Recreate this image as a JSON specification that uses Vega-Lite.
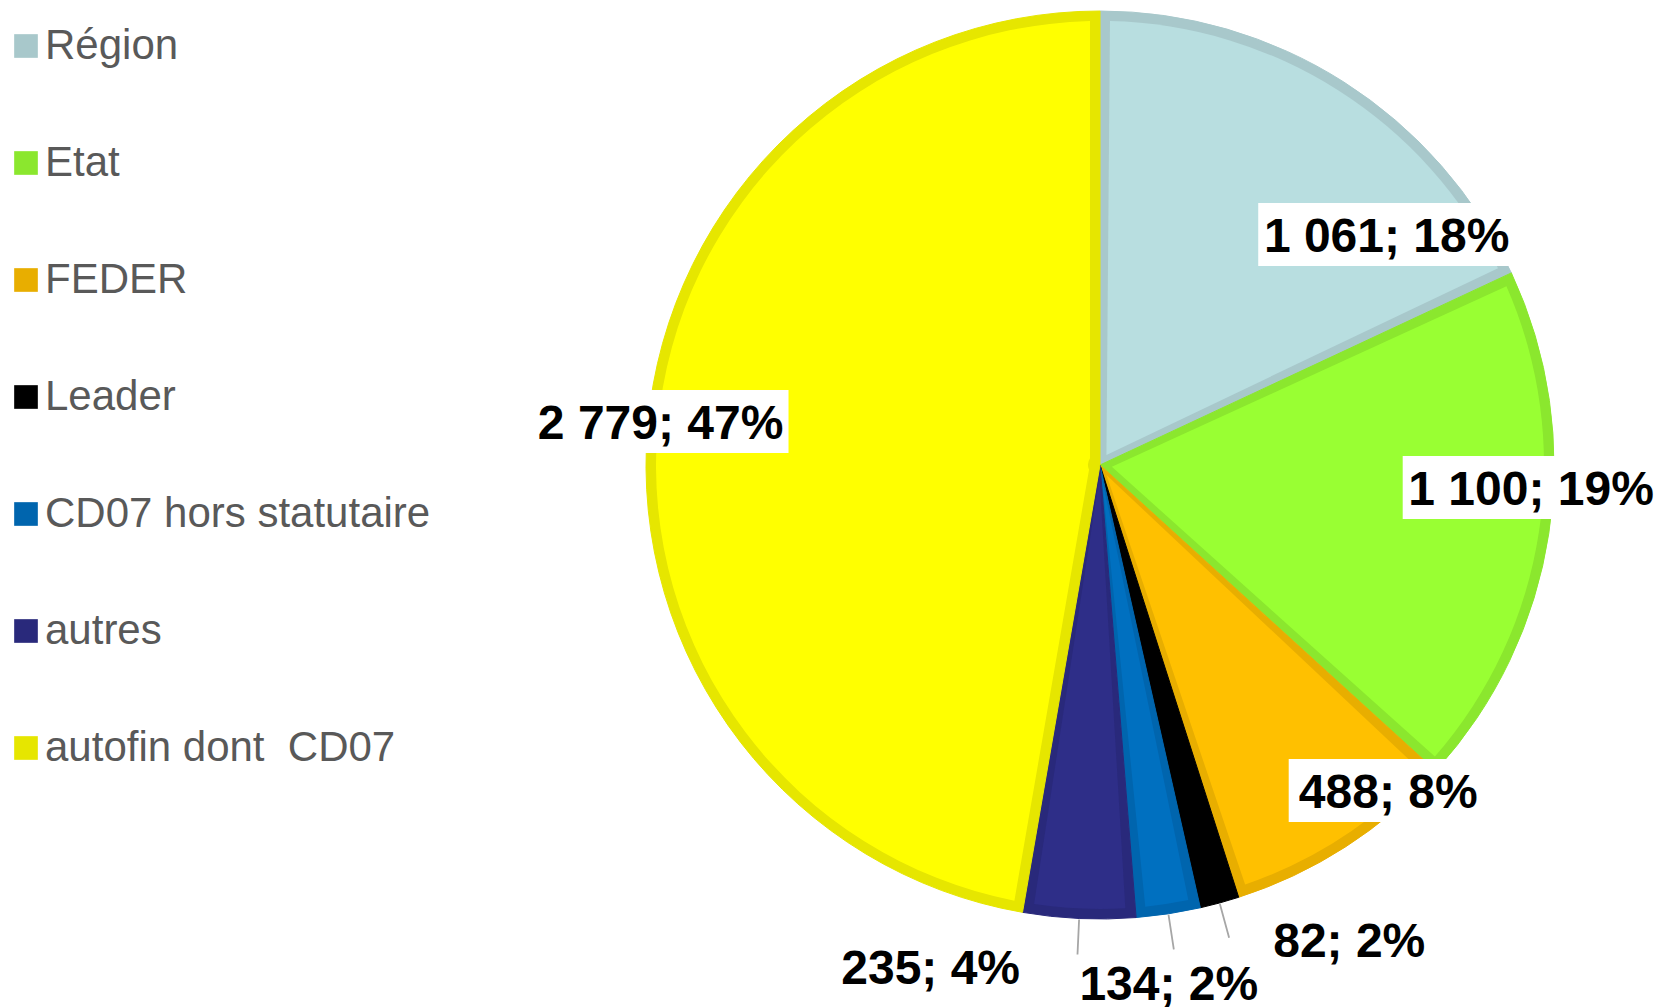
{
  "$schema": "https://vega.github.io/schema/vega-lite/v6.json",
  "width": 1116,
  "height": 930,
  "autosize": {"type": "none"},
  "padding": {"left": 542, "top": 0, "right": 0, "bottom": 77},
  "background": "#ffffff",
  "config": {"view": {"stroke": null}},
  "data": {
    "values": [
      {"cat": "Région", "value": 1061, "label": "1 061; 18%", "idx": 1},
      {"cat": "Etat", "value": 1100, "label": "1 100; 19%", "idx": 2},
      {"cat": "FEDER", "value": 488, "label": "488; 8%", "idx": 3},
      {"cat": "Leader", "value": 82, "label": "82; 2%", "idx": 4},
      {"cat": "CD07 hors statutaire", "value": 134, "label": "134; 2%", "idx": 5},
      {"cat": "autres", "value": 235, "label": "235; 4%", "idx": 6},
      {"cat": "autofin dont\u00a0 CD07", "value": 2779, "label": "2 779; 47%", "idx": 7}
    ]
  },
  "encoding": {
    "theta": {"field": "value", "type": "quantitative", "stack": true},
    "order": {"field": "idx", "type": "quantitative"}
  },
  "layer": [
    {
      "mark": {"type": "arc", "radius": 454, "strokeWidth": 1},
      "encoding": {
        "color": {
          "field": "cat", "type": "nominal",
          "scale": {
            "domain": ["Région", "Etat", "FEDER", "Leader", "CD07 hors statutaire", "autres", "autofin dont\u00a0 CD07"],
            "range": ["#A8C8CB", "#8BE72E", "#E8AE00", "#000000", "#0065AE", "#29297B", "#E6E600"]
          },
          "legend": {
            "orient": "none", "legendX": -537, "legendY": 25, "title": null,
            "symbolType": "square", "symbolSize": 560, "symbolStrokeWidth": 0,
            "labelFont": "Liberation Sans", "labelFontSize": 42, "labelColor": "#595959",
            "labelOffset": -2, "rowPadding": 75, "labelLimit": 0, "padding": 0
          }
        },
        "stroke": {
          "field": "cat", "type": "nominal",
          "scale": {
            "domain": ["Région", "Etat", "FEDER", "Leader", "CD07 hors statutaire", "autres", "autofin dont\u00a0 CD07"],
            "range": ["#A8C8CB", "#8BE72E", "#E8AE00", "#000000", "#0065AE", "#29297B", "#E6E600"]
          },
          "legend": null
        }
      }
    },
    {
      "mark": {"type": "arc", "radius": 444, "radius2": 12, "padAngle": 0.045},
      "encoding": {
        "fill": {
          "field": "cat", "type": "nominal",
          "scale": {
            "domain": ["Région", "Etat", "FEDER", "Leader", "CD07 hors statutaire", "autres", "autofin dont\u00a0 CD07"],
            "range": ["#B8DEE0", "#99FF33", "#FFC000", "#000000", "#0070C0", "#2E2E88", "#FFFF00"]
          },
          "legend": null
        }
      }
    },
    {
      "mark": {"type": "arc", "filled": false, "stroke": "#A6A6A6", "strokeWidth": 1.8, "radius": 490, "radius2": 455, "padAngle": 3},
      "encoding": {
        "strokeOpacity": {
          "condition": {"test": "datum.idx >= 4 && datum.idx <= 6", "value": 1},
          "value": 0
        }
      }
    },
    {
      "mark": {"type": "text", "font": "DejaVu Sans Mono", "fontSize": 53, "fill": "#ffffff", "radius": 368, "dx": 89, "dy": 82},
      "encoding": {"text": {"condition": {"test": "datum.idx === 1", "value": "████████"}, "value": ""}}
    },
    {
      "mark": {"type": "text", "font": "DejaVu Sans Mono", "fontSize": 53, "fill": "#ffffff", "radius": 432, "dx": 4, "dy": -40},
      "encoding": {"text": {"condition": {"test": "datum.idx === 2", "value": "████████"}, "value": ""}}
    },
    {
      "mark": {"type": "text", "font": "DejaVu Sans Mono", "fontSize": 53, "fill": "#ffffff", "radius": 435, "dx": 50, "dy": -38},
      "encoding": {"text": {"condition": {"test": "datum.idx === 3", "value": "██████"}, "value": ""}}
    },
    {
      "mark": {"type": "text", "font": "DejaVu Sans Mono", "fontSize": 53, "fill": "#ffffff", "radius": 441, "dx": 0, "dy": -3},
      "encoding": {"text": {"condition": {"test": "datum.idx === 7", "value": "████████"}, "value": ""}}
    },
    {
      "mark": {"type": "text", "font": "Liberation Sans", "fontWeight": "bold", "fontSize": 48, "fill": "#000000", "radius": 368, "dx": 89, "dy": 83},
      "encoding": {"text": {"condition": {"test": "datum.idx === 1", "field": "label"}, "value": ""}}
    },
    {
      "mark": {"type": "text", "font": "Liberation Sans", "fontWeight": "bold", "fontSize": 48, "fill": "#000000", "radius": 432, "dx": 4, "dy": -39},
      "encoding": {"text": {"condition": {"test": "datum.idx === 2", "field": "label"}, "value": ""}}
    },
    {
      "mark": {"type": "text", "font": "Liberation Sans", "fontWeight": "bold", "fontSize": 48, "fill": "#000000", "radius": 435, "dx": 53, "dy": -37},
      "encoding": {"text": {"condition": {"test": "datum.idx === 3", "field": "label"}, "value": ""}}
    },
    {
      "mark": {"type": "text", "font": "Liberation Sans", "fontWeight": "bold", "fontSize": 48, "fill": "#000000", "radius": 536, "dx": 108, "dy": -39},
      "encoding": {"text": {"condition": {"test": "datum.idx === 4", "field": "label"}, "value": ""}}
    },
    {
      "mark": {"type": "text", "font": "Liberation Sans", "fontWeight": "bold", "fontSize": 48, "fill": "#000000", "radius": 523, "dx": -10, "dy": 4},
      "encoding": {"text": {"condition": {"test": "datum.idx === 5", "field": "label"}, "value": ""}}
    },
    {
      "mark": {"type": "text", "font": "Liberation Sans", "fontWeight": "bold", "fontSize": 48, "fill": "#000000", "radius": 530, "dx": -145, "dy": -24},
      "encoding": {"text": {"condition": {"test": "datum.idx === 6", "field": "label"}, "value": ""}}
    },
    {
      "mark": {"type": "text", "font": "Liberation Sans", "fontWeight": "bold", "fontSize": 48, "fill": "#000000", "radius": 441, "dx": 0, "dy": -2},
      "encoding": {"text": {"condition": {"test": "datum.idx === 7", "field": "label"}, "value": ""}}
    }
  ]
}
